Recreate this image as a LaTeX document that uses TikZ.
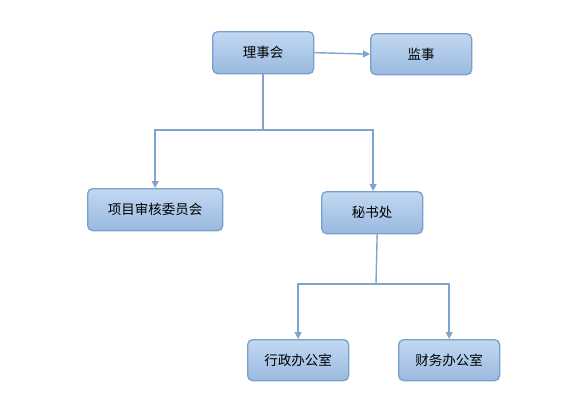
\documentclass[tikz,border=0pt]{standalone}
\usepackage{fontspec}
\newfontfamily\cjk{Noto Sans CJK SC}
\usetikzlibrary{arrows.meta,shadings}
\definecolor{boxtop}{HTML}{C2D8F2}
\definecolor{boxbot}{HTML}{99B9DF}
\definecolor{boxline}{HTML}{7A9FCB}
\definecolor{linkline}{HTML}{7FA4CE}
\tikzset{
  orgbox/.style={draw=boxline, line width=1.3pt, rounded corners=5pt,
    top color=boxtop, bottom color=boxbot, anchor=north west,
    font=\cjk\fontsize{13.5}{15}\selectfont, inner sep=0pt},
  link/.style={draw=linkline, line width=1.4pt},
  linkarrow/.style={link, -{Triangle[width=7pt,length=7pt]}},
}
\begin{document}
\begin{tikzpicture}[x=1pt,y=-1pt]
\useasboundingbox (0,0) rectangle (584,400);
\node[orgbox, minimum width=101pt, minimum height=42pt] (lsh) at (212,31) {理事会};
\node[orgbox, minimum width=101pt, minimum height=41pt] (js) at (370,33) {监事};
\node[orgbox, minimum width=135pt, minimum height=42pt] (xm) at (87,188) {项目审核委员会};
\node[orgbox, minimum width=101pt, minimum height=42pt] (msc) at (321,191) {秘书处};
\node[orgbox, minimum width=101pt, minimum height=41pt] (xz) at (247,339) {行政办公室};
\node[orgbox, minimum width=101pt, minimum height=41pt] (cw) at (398,339) {财务办公室};
\coordinate (j1) at (263,130);
\coordinate (j2) at (376,284);
\draw[linkarrow] (lsh.east) -- (js.west);
\draw[link] (lsh.south -| j1) -- (j1);
\draw[linkarrow] (j1) -| (xm.north);
\draw[linkarrow] (j1) -| ([xshift=1pt]msc.north);
\draw[link] ([xshift=5pt]msc.south) -- (j2);
\draw[linkarrow] (j2) -| (xz.north);
\draw[linkarrow] (j2) -| (cw.north);
\end{tikzpicture}
\end{document}
